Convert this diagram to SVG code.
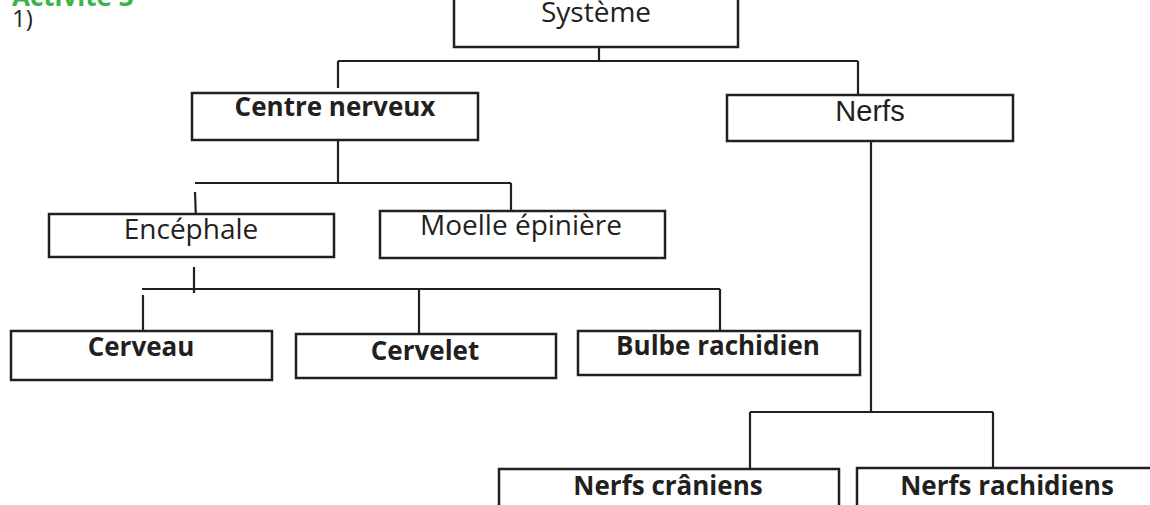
<svg xmlns="http://www.w3.org/2000/svg" width="1150" height="505" viewBox="0 0 1150 505">
<style>
.box{fill:#fff;stroke:#231f20;stroke-width:2.5}
.ln{fill:none;stroke:#231f20;stroke-width:2.2}
.t{font-family:"Open Sans","Noto Sans","Liberation Sans",sans-serif;font-size:28px;fill:#231f20;text-anchor:middle}
.tl{font-family:"Liberation Sans","Open Sans",sans-serif;font-size:29px}
.b{font-weight:bold;font-size:26px}
</style>
<rect width="1150" height="505" fill="#fff"/>
<text x="12" y="5.5" font-family="Open Sans, Liberation Sans, sans-serif" font-weight="bold" font-size="26" fill="#39b54a">Activité 3</text>
<text x="12" y="27" font-family="Open Sans, Liberation Sans, sans-serif" font-size="24" fill="#231f20">1)</text>
<g id="connectors">
<path class="ln" d="M599 47V61M338 61H858M338 61V88M858 61V95"/>
<path class="ln" d="M338 140V183M195 183H511M195 192L196 220M511 183V211"/>
<path class="ln" d="M194 267V293M142 289H720M143 295V337M419 289V334M720 289V331"/>
<path class="ln" d="M871 141V412M750 412H993M750 412V469M993 412V468"/>
</g>
<g id="systeme"><rect class="box" x="454" y="-5" width="284" height="52"/><text class="t" x="596" y="22">Système</text></g>
<g id="centre"><rect class="box" x="192" y="93" width="286" height="47"/><text class="t b" x="335" y="116">Centre nerveux</text></g>
<g id="nerfs"><rect class="box" x="727" y="95" width="286" height="46"/><text class="t tl" x="870" y="121">Nerfs</text></g>
<g id="encephale"><rect class="box" x="49" y="214" width="285" height="43"/><text class="t" x="191" y="239">Encéphale</text></g>
<g id="moelle"><rect class="box" x="380" y="211" width="285" height="47"/><text class="t" x="521" y="235">Moelle épinière</text></g>
<g id="cerveau"><rect class="box" x="11" y="331" width="261" height="49"/><text class="t b" x="141" y="356">Cerveau</text></g>
<g id="cervelet"><rect class="box" x="296" y="334" width="260" height="44"/><text class="t b" x="425" y="360">Cervelet</text></g>
<g id="bulbe"><rect class="box" x="578" y="331" width="282" height="44"/><text class="t b" x="718" y="355">Bulbe rachidien</text></g>
<g id="craniens"><rect class="box" x="499" y="469" width="340" height="50"/><text class="t b" x="668" y="495">Nerfs crâniens</text></g>
<g id="rachidiens"><rect class="box" x="857" y="468" width="310" height="50"/><text class="t b" x="1007" y="495">Nerfs rachidiens</text></g>
</svg>
